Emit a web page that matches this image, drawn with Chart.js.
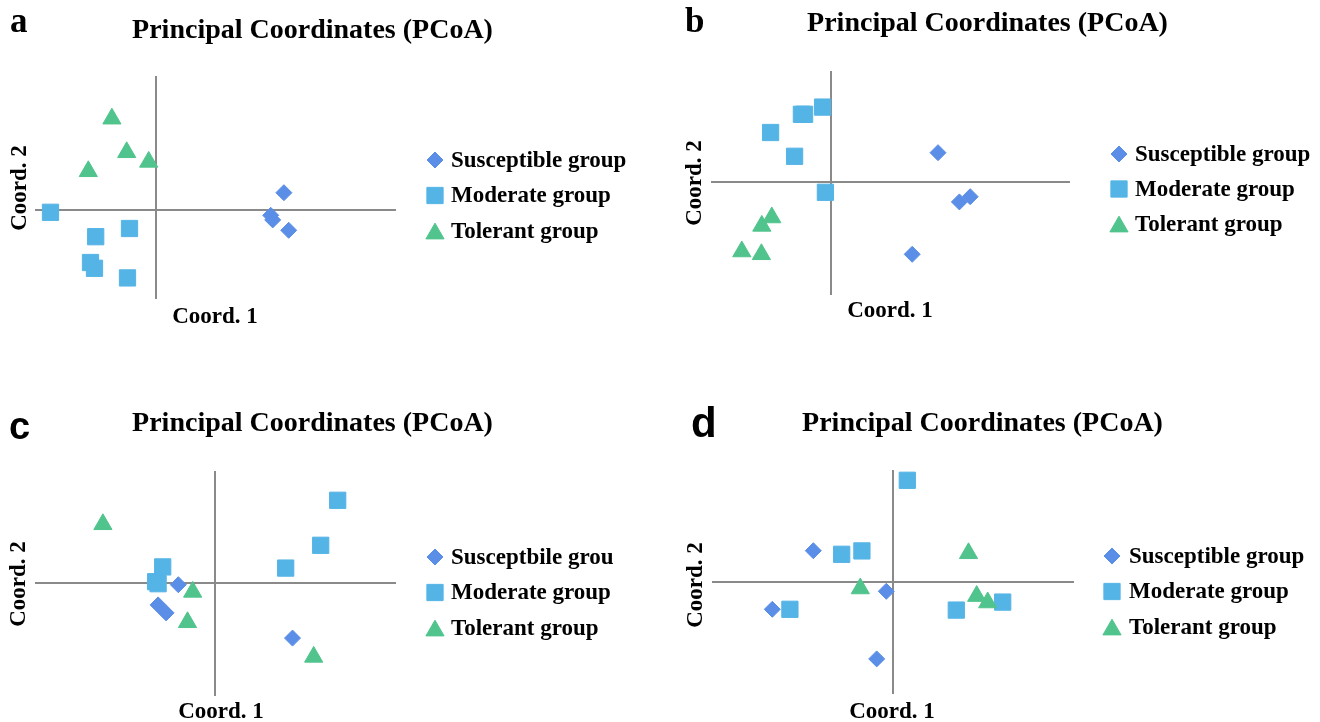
<!DOCTYPE html>
<html>
<head>
<meta charset="utf-8">
<script src="https://cdn.jsdelivr.net/npm/chart.js@4.4.1/dist/chart.umd.min.js"></script>
<style>
html,body{margin:0;padding:0;background:#fff;width:1320px;height:722px;overflow:hidden;}
canvas{position:absolute;display:block;}
</style>
</head>
<body>
<canvas id="cA" width="660" height="340" style="left:0;top:0"></canvas>
<canvas id="cB" width="660" height="340" style="left:660px;top:0"></canvas>
<canvas id="cC" width="660" height="342" style="left:0;top:380px"></canvas>
<canvas id="cD" width="660" height="342" style="left:660px;top:380px"></canvas>
<script>
// ---------- data (arbitrary PCoA units) ----------
const groupLabels  = ['Susceptible group', 'Moderate group', 'Tolerant group'];
const groupLabelsC = ['Susceptbile grou', 'Moderate group', 'Tolerant group'];
const chartTitle = 'Principal Coordinates (PCoA)';
const axisTitleX = 'Coord. 1';
const axisTitleY = 'Coord. 2';

// panel a
const aSusceptible = [[0.321,0.042],[0.288,-0.0145],[0.293,-0.026],[0.333,-0.052]];
const aModerate    = [[-0.2625,-0.007],[-0.1495,-0.068],[-0.065,-0.0475],[-0.1625,-0.1325],[-0.1525,-0.147],[-0.070,-0.171]];
const aTolerant    = [[-0.109,0.227],[-0.072,0.143],[-0.017,0.119],[-0.168,0.0955]];
// panel b
const bSusceptible = [[0.2675,0.074],[0.321,-0.049],[0.348,-0.036],[0.203,-0.180]];
const bModerate    = [[-0.021,0.188],[-0.074,0.170],[-0.066,0.170],[-0.151,0.1245],[-0.091,0.065],[-0.014,-0.025]];
const bTolerant    = [[-0.148,-0.088],[-0.173,-0.109],[-0.223,-0.173],[-0.174,-0.180]];
// panel c
const cSusceptible = [[-0.0925,-0.0035],[-0.143,-0.054],[-0.123,-0.074],[0.193,-0.137]];
const cModerate    = [[0.306,0.2075],[0.2635,0.095],[0.176,0.038],[-0.1315,0.041],[-0.149,0.004],[-0.143,-0.001]];
const cTolerant    = [[-0.281,0.1475],[-0.0565,-0.0215],[-0.0695,-0.0975],[0.246,-0.184]];
// panel d
const dSusceptible = [[-0.1985,0.0775],[-0.016,-0.024],[-0.301,-0.069],[-0.040,-0.193]];
const dModerate    = [[0.0365,0.2535],[-0.1275,0.0685],[-0.077,0.077],[-0.257,-0.069],[0.159,-0.071],[0.275,-0.051]];
const dTolerant    = [[0.1895,0.071],[-0.081,-0.017],[0.210,-0.036],[0.2375,-0.052]];

// axis extents of each plot
const aRangeX = [-0.29875, 0.59875], aRangeY = [-0.22125, 0.33125];
const bRangeX = [-0.2975, 0.595],    bRangeY = [-0.27925, 0.27575];
const cRangeX = [-0.44825, 0.44925], cRangeY = [-0.27925, 0.27825];
const dRangeX = [-0.44925, 0.45075], dRangeY = [-0.27825, 0.27675];

// ---------- styles ----------
const SERIF = '"Liberation Serif", "Times New Roman", serif';
const SANS  = '"Liberation Sans", Arial, sans-serif';
const styles = [
  {pointStyle:'rectRot',  pointRadius:8,    color:'#5B8EE6'},
  {pointStyle:'rect',     pointRadius:11.5, color:'#55B4E6'},
  {pointStyle:'triangle', pointRadius:10.5, color:'#50C48C'}
];

function drawMarker(ctx, st, x, y) {
  ctx.fillStyle = st.color;
  ctx.strokeStyle = st.color;
  ctx.lineWidth = 1;
  if (Chart.helpers && Chart.helpers.drawPoint) {
    Chart.helpers.drawPoint(ctx, {pointStyle: st.pointStyle, radius: st.pointRadius, borderWidth: 1, rotation: 0}, x, y);
  }
}

const panelText = {
  id: 'panelText',
  afterDraw(chart, args, o) {
    const ctx = chart.ctx;
    ctx.save();
    ctx.fillStyle = '#000';
    // panel letter
    ctx.textAlign = 'left';
    ctx.textBaseline = 'alphabetic';
    ctx.font = o.letterFont;
    ctx.fillText(o.letter, o.letterX, o.letterY);
    // title
    ctx.font = 'bold 28px ' + SERIF;
    ctx.textAlign = 'center';
    ctx.textBaseline = 'middle';
    ctx.fillText(chartTitle, o.titleX, o.titleY);
    // axis titles
    ctx.font = 'bold 23px ' + SERIF;
    ctx.fillText(axisTitleX, o.xTitleX, o.xTitleY);
    ctx.save();
    ctx.translate(o.yTitleX, o.yTitleY);
    ctx.rotate(-Math.PI / 2);
    ctx.fillText(axisTitleY, 0, 0);
    ctx.restore();
    // legend
    chart.data.datasets.forEach((ds, i) => {
      const st = styles[i];
      const y = o.legendY + i * o.legendGap;
      const dy = st.pointStyle === 'triangle' ? st.pointRadius / 4 : 0;
      drawMarker(ctx, st, o.legendX, y + dy);
      ctx.fillStyle = '#000';
      ctx.font = 'bold 23px ' + SERIF;
      ctx.textAlign = 'left';
      ctx.textBaseline = 'middle';
      ctx.fillText(ds.label, o.legendTextX, y + 1);
    });
    ctx.restore();
  }
};

function makeDatasets(labels, series) {
  return series.map((pts, i) => ({
    label: labels[i],
    data: pts.map(p => ({x: p[0], y: p[1]})),
    pointStyle: styles[i].pointStyle,
    pointRadius: styles[i].pointRadius,
    pointHoverRadius: styles[i].pointRadius,
    backgroundColor: styles[i].color,
    borderColor: styles[i].color,
    borderWidth: 1,
    showLine: false,
    clip: false,
    order: 3 - i
  }));
}

function axis(range, pos) {
  return {
    type: 'linear', min: range[0], max: range[1], position: pos,
    grid: {display: false, drawTicks: false},
    ticks: {display: false},
    border: {display: true, color: '#8a8a8a', width: 2},
    title: {display: false}
  };
}

function makeChart(id, labels, series, rx, ry, pad, txt) {
  return new Chart(document.getElementById(id), {
    type: 'scatter',
    data: {datasets: makeDatasets(labels, series)},
    options: {
      responsive: false,
      animation: false,
      events: [],
      layout: {padding: pad},
      scales: {x: axis(rx, {y: 0}), y: axis(ry, {x: 0})},
      plugins: {legend: {display: false}, tooltip: {enabled: false}, title: {display: false}, panelText: txt}
    },
    plugins: [panelText]
  });
}

makeChart('cA', groupLabels, [aSusceptible, aModerate, aTolerant], aRangeX, aRangeY,
  {left: 36, right: 265, top: 77, bottom: 42},
  {letter: 'a', letterFont: 'bold 35px ' + SERIF, letterX: 10, letterY: 32,
   titleX: 312.5, titleY: 31, xTitleX: 215, xTitleY: 317, yTitleX: 20, yTitleY: 188,
   legendX: 435, legendY: 160, legendGap: 35.5, legendTextX: 451});

makeChart('cB', groupLabels, [bSusceptible, bModerate, bTolerant], bRangeX, bRangeY,
  {left: 52, right: 251, top: 72, bottom: 46},
  {letter: 'b', letterFont: 'bold 35px ' + SERIF, letterX: 25, letterY: 32,
   titleX: 327.5, titleY: 24, xTitleX: 230, xTitleY: 311, yTitleX: 35, yTitleY: 183,
   legendX: 459, legendY: 154, legendGap: 35, legendTextX: 475});

makeChart('cC', groupLabelsC, [cSusceptible, cModerate, cTolerant], cRangeX, cRangeY,
  {left: 36, right: 265, top: 92, bottom: 27},
  {letter: 'c', letterFont: 'bold 38px ' + SANS, letterX: 9, letterY: 59,
   titleX: 312.5, titleY: 44, xTitleX: 221, xTitleY: 332, yTitleX: 19.5, yTitleY: 204,
   legendX: 435, legendY: 177, legendGap: 35.5, legendTextX: 451});

makeChart('cD', groupLabels, [dSusceptible, dModerate, dTolerant], dRangeX, dRangeY,
  {left: 53, right: 247, top: 91, bottom: 29},
  {letter: 'd', letterFont: 'bold 42px ' + SANS, letterX: 31, letterY: 57,
   titleX: 322.5, titleY: 44, xTitleX: 232, xTitleY: 332, yTitleX: 36.5, yTitleY: 205,
   legendX: 452, legendY: 176, legendGap: 35.5, legendTextX: 469});
</script>
</body>
</html>
